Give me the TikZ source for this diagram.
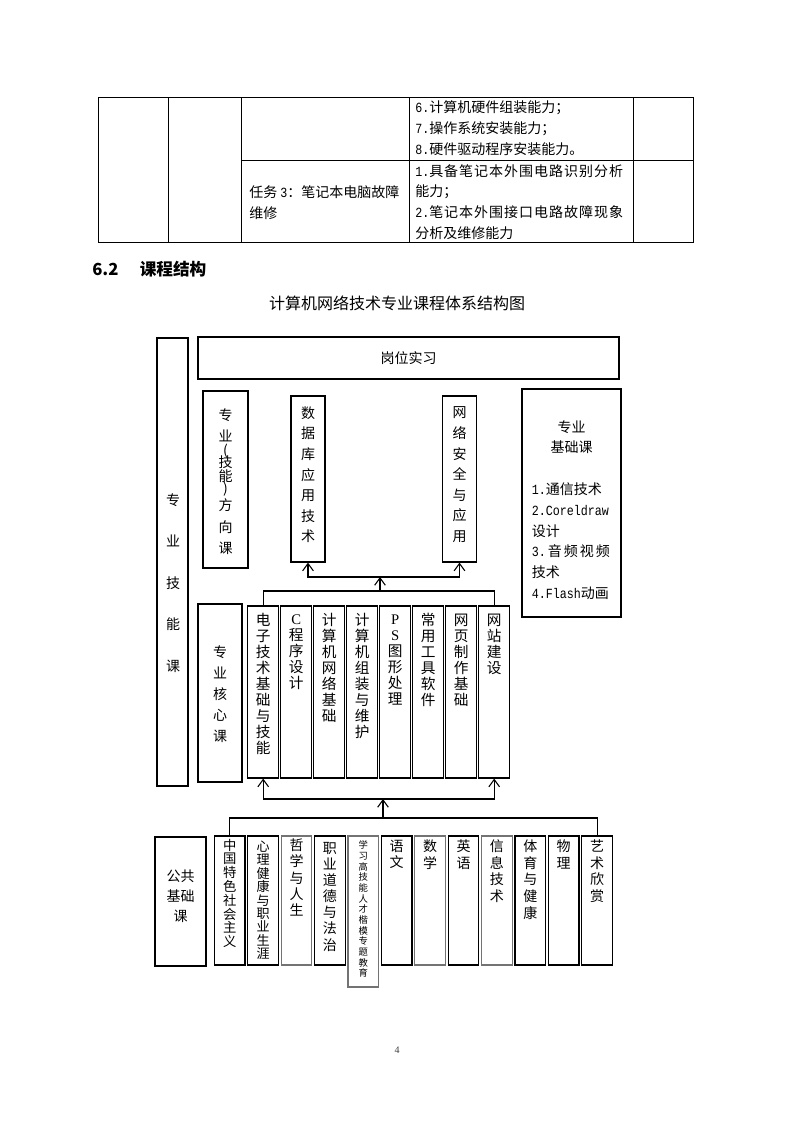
\documentclass[tikz,border=0pt]{standalone}
\usepackage{fontspec}
\setmainfont{Liberation Serif}
\newfontfamily\cjk{Noto Sans CJK SC}
\newfontfamily\cjkwide[LetterSpace=7]{Noto Sans CJK SC}
\newfontfamily\hmono[FakeStretch=0.8333]{Liberation Mono}
\newcommand{\hm}[1]{{\hmono #1}}
\usetikzlibrary{arrows.meta}

\tikzset{
  frame/.style={draw, line width=0.85pt, inner sep=0pt},
  cbox/.style={frame, minimum width=23.25pt, minimum height=129pt},
  pbox/.style={frame, minimum width=22.9pt, minimum height=96.75pt},
  vt/.style 2 args={align=center, inner sep=0pt, font=\cjk\fontsize{#1}{#2}\selectfont},
  ht/.style={anchor=west, align=left, inner sep=0pt, font=\cjk\fontsize{10.5}{15.6}\selectfont},
  arr/.style={-{Straight Barb[length=5.5pt,width=8pt]}, line width=0.8pt},
}

\begin{document}
\begin{tikzpicture}[x=0.75pt, y=-0.75pt]
\fill[white] (0,0) rectangle (794,1122);
% end of the table from the page before
\draw[line width=0.75pt] (98,97) rectangle (693,242);
\foreach \x in {168,241,409,633} \draw[line width=0.75pt] (\x,97) -- (\x,242);
\draw[line width=0.75pt] (241,160) -- (693,160);
\node[ht] (abil1) at (415,128) {\hm{6.}计算机硬件组装能力；\\\hm{7.}操作系统安装能力；\\\hm{8.}硬件驱动程序安装能力。};
\node[ht] (abil2) at (415,202) {{\cjkwide\hm{1.}具备笔记本外围电路识别分析}\\能力；\\{\cjkwide\hm{2.}笔记本外围接口电路故障现象}\\分析及维修能力};
\node[ht, font=\cjk\fontsize{10.5}{15.75}\selectfont] (task) at (249,202.5) {任务 \hm{3}：笔记本电脑故障\\维修};
% heading and caption
\node[anchor=west, inner sep=0pt, font=\cjk\bfseries\fontsize{12.5}{15}\selectfont] (sec) at (92,269) {6.2\hspace{16pt}课程结构};
\node[font=\cjk\fontsize{12}{14}\selectfont] (title) at (397,303) {计算机网络技术专业课程体系结构图};

% upper part
\node[frame, minimum width=23.25pt, minimum height=336pt] (skill) at (172.5,562) {};
\node[vt={10.5}{31.1}] (skillt) at (173,583) {专\\业\\技\\能\\课};
\node[frame, minimum width=315.75pt, minimum height=31.5pt, font=\cjk\fontsize{10.5}{12}\selectfont] (intern) at (408.5,358) {岗位实习};
\node[frame, minimum width=33.75pt, minimum height=132.75pt] (dir) at (225.5,479.5) {};
\foreach \ch/\yy [count=\i] in {专/415,业/436,{(}/451,技/462,能/476,{)}/489,方/505,向/527,课/548}
  \node[vt={10.5}{12}] (dir\i) at (225.5,\yy) {\ch};
\node[frame, minimum width=25.5pt, minimum height=124.5pt] (db) at (308,479) {};
\node[vt={10.5}{15.45}] (dbt) at (308,474.8) {数\\据\\库\\应\\用\\技\\术};
\node[frame, minimum width=25.5pt, minimum height=124.5pt] (net) at (459.5,479) {};
\node[vt={10.5}{15.45}] (nett) at (459.5,474.8) {网\\络\\安\\全\\与\\应\\用};
\node[frame, minimum width=74.25pt, minimum height=171pt] (base) at (571.5,503) {};
\node[vt={10.5}{15}] (baset) at (571.7,436.7) {专业\\基础课};
\node[ht, font=\cjk\fontsize{10.5}{15.5}\selectfont] (basel) at (531.7,541) {\hm{1.}通信技术\\\hm{2.Coreldraw}\\设计\\\hbox to 58.5pt{\hm{3.}\hfil 音\hfil 频\hfil 视\hfil 频}\\技术\\\hm{4.Flash}动画};

% core courses
\node[frame, minimum width=33pt, minimum height=133.5pt] (core) at (220,693) {};
\node[vt={10.5}{15.75}] (coret) at (220,694) {专\\业\\核\\心\\课};
\foreach \i in {1,...,8}
  \node[cbox] (c\i) at ({263.2+33*(\i-1)},692) {};
\node[vt={11}{12}] (c1t) at (263.2,684) {电\\子\\技\\术\\基\\础\\与\\技\\能};
\node[vt={11}{12}] (c2t) at (296.2,652) {{\rmfamily C}\\程\\序\\设\\计};
\node[vt={11}{12}] (c3t) at (329.2,668) {计\\算\\机\\网\\络\\基\\础};
\node[vt={11}{12}] (c4t) at (362.2,676) {计\\算\\机\\组\\装\\与\\维\\护};
\node[vt={11}{12}] (c5t) at (395.2,660) {{\rmfamily P}\\{\rmfamily S}\\图\\形\\处\\理};
\node[vt={11}{12}] (c6t) at (428.2,660) {常\\用\\工\\具\\软\\件};
\node[vt={11}{12}] (c7t) at (461.2,660) {网\\页\\制\\作\\基\\础};
\node[vt={11}{12}] (c8t) at (494.2,644) {网\\站\\建\\设};

% public basic courses
\node[frame, minimum width=38.25pt, minimum height=96.75pt] (pub) at (180.5,901.5) {};
\node[vt={10.5}{15}] (pubt) at (180.7,896.7) {公共\\基础\\课};
\foreach \i/\cl in {1/black,2/black,3/black!55,4/black,6/black,7/black!55,8/black,9/black!55,10/black,11/black,12/black}
  \node[pbox, draw=\cl] (p\i) at ({229.7+33.4*(\i-1)},900.5) {};
\node[frame, draw=black!55, minimum width=22.9pt, minimum height=113.25pt] (p5) at (363.3,911.5) {};
\node[vt={10}{10.35}] (p1t) at (229.7,893.3) {中\\国\\特\\色\\社\\会\\主\\义};
\node[vt={9.8}{10.05}] (p2t) at (263.1,900.3) {心\\理\\健\\康\\与\\职\\业\\生\\涯};
\node[vt={10.5}{12.2}] (p3t) at (296.5,877.5) {哲\\学\\与\\人\\生};
\node[vt={10.5}{12.1}] (p4t) at (329.9,896.7) {职\\业\\道\\德\\与\\法\\治};
\node[vt={7}{8}] (p5t) at (363.3,909.2) {学\\习\\高\\技\\能\\人\\才\\楷\\模\\专\\题\\教\\育};
\node[vt={10.5}{12.5}] (p6t) at (396.7,854.4) {语\\文};
\node[vt={10.5}{12.5}] (p7t) at (430.1,854.4) {数\\学};
\node[vt={10.5}{12.5}] (p8t) at (463.5,854.4) {英\\语};
\node[vt={10.5}{12.5}] (p9t) at (496.9,871.1) {信\\息\\技\\术};
\node[vt={10.5}{12.5}] (p10t) at (530.3,879.4) {体\\育\\与\\健\\康};
\node[vt={10.5}{12.5}] (p11t) at (563.7,854.4) {物\\理};
\node[vt={10.5}{12.5}] (p12t) at (597.1,871.1) {艺\\术\\欣\\赏};

% connectors
\coordinate (jt) at (380,591);
\coordinate (ju) at (380,577);
\draw[line width=0.8pt] (c1.north) |- (jt) -| (c8.north);
\draw[arr] (jt) -- (ju);
\draw[arr] (ju) -| (db.south);
\draw[arr] (ju) -| (net.south);
\coordinate (jb) at (383,818);
\coordinate (jm) at (383,799);
\draw[line width=0.8pt] (p1.north) |- (jb) -| (p12.north);
\draw[arr] (jb) -- (jm);
\draw[arr] (jm) -| (c1.south);
\draw[arr] (jm) -| (c8.south);

\node[font=\fontsize{7.5}{9}\selectfont, text=black!75] (pg) at (397,1050) {4};
\end{tikzpicture}
\end{document}
